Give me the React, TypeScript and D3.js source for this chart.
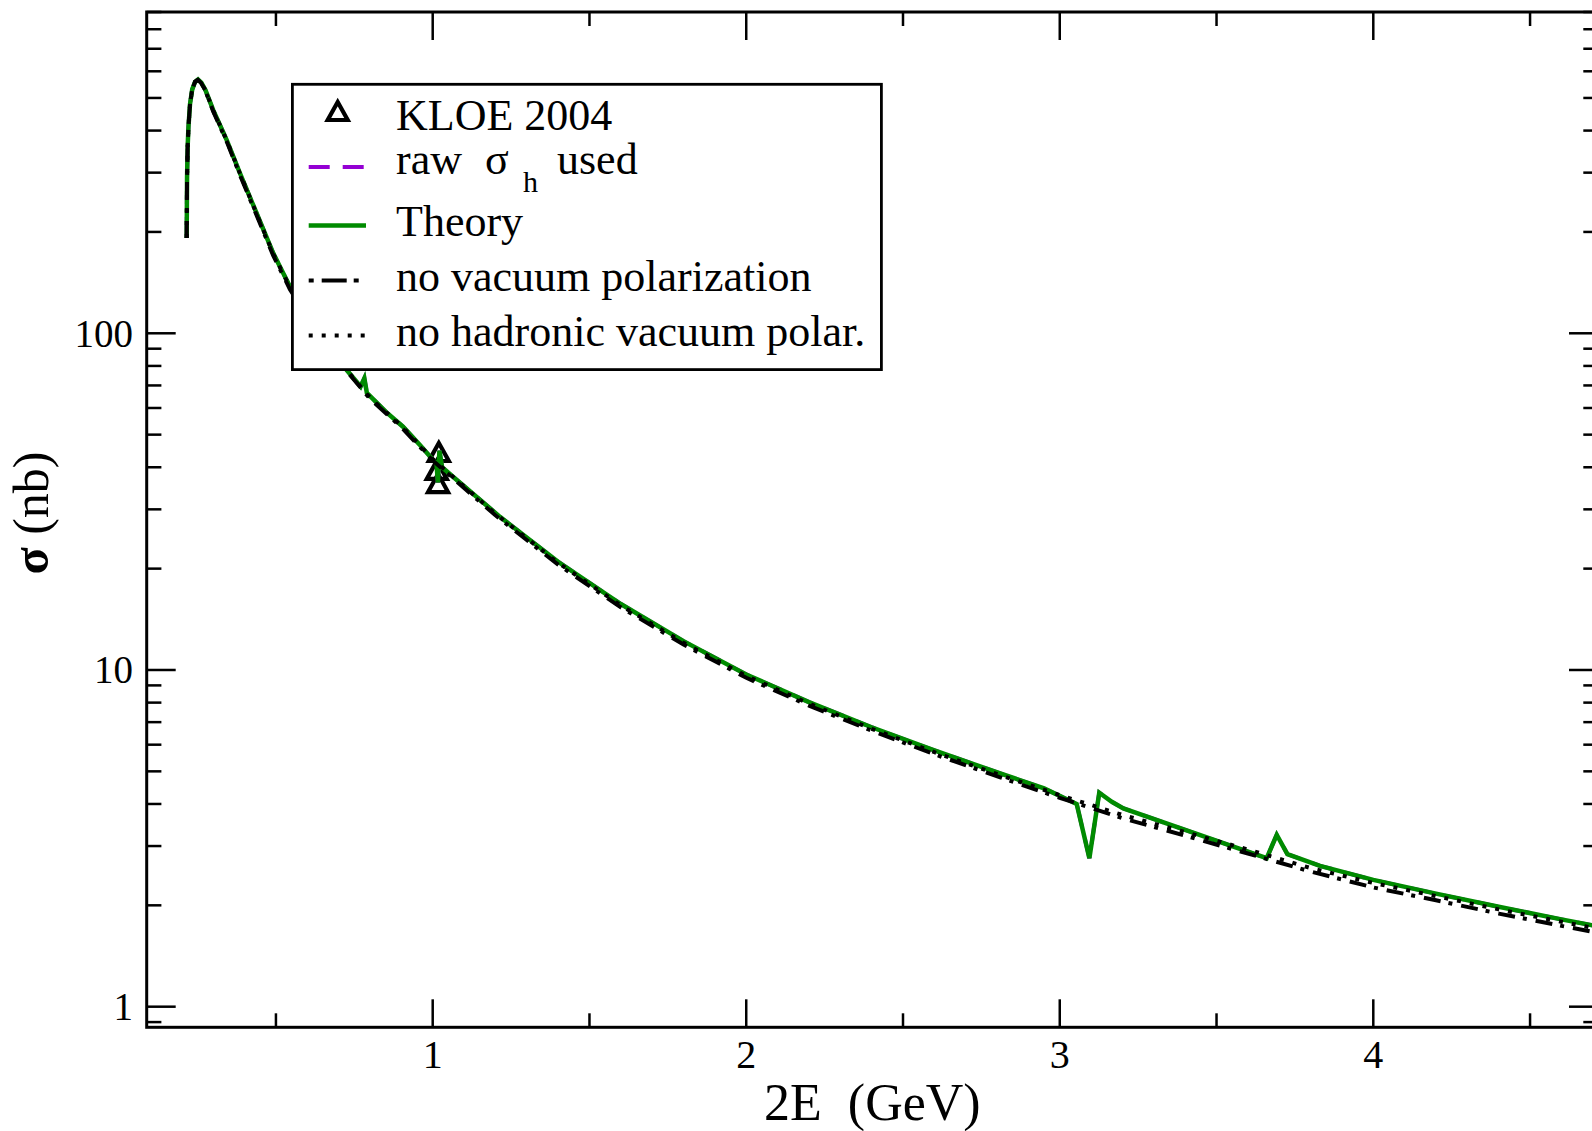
import React from "react";
import * as d3 from "d3";

// ---- data ----
const theoryE = [0.2153,0.2165,0.2185,0.2210,0.2260,0.2330,0.2420,0.2514,0.2620,0.2750,0.3000,0.3430,0.3853,0.4386,0.4915,0.5448,0.6000,0.6600,0.7257,0.7700,0.7820,0.7900,0.8500,0.9053,0.9600,1.0020,1.0120,1.0165,1.0215,1.0300,1.0648,1.2147,1.4000,1.6000,1.8000,2.0000,2.2000,2.4000,2.6000,2.8100,2.9500,3.0540,3.0945,3.1260,3.1660,3.2030,3.4000,3.6600,3.6920,3.7260,3.8300,4.0000,4.2000,4.4000,4.6000,4.7200];
const theorySigma = [192,290,360,410,480,530,558,567,555,528,460,375,298.7,227,172.8,137.5,113,93.5,77.8,69.5,73.5,66.5,58.5,52.8,46.5,42.0,41.2,36.0,44.8,40.0,37.5,28.5,20.96,15.7,12.18,9.7,8.03,6.76,5.77,4.93,4.45,4.0,2.76,4.32,4.06,3.88,3.35,2.76,3.24,2.84,2.62,2.38,2.166,1.98,1.817,1.73];

const rawE = theoryE;
const rawSigma = theorySigma;

const noVpE = [0.2153,0.2165,0.2185,0.2210,0.2260,0.2330,0.2420,0.2514,0.2620,0.2750,0.3000,0.3430,0.3853,0.4386,0.4915,0.5448,0.6000,0.6600,0.7257,0.8000,0.9000,1.0000,1.2000,1.4000,1.6000,1.8000,2.0000,2.2000,2.4000,2.6000,2.8100,3.0000,3.2000,3.4000,3.6000,3.8000,4.0000,4.2000,4.4000,4.6000,4.7200];
const noVpSigma = [192,290,360,410,480,530,558,566,553,525,456,371,295,224,170,135,112.4,93,77.2,63.9,52.6,41.9,28.8,20.55,15.35,11.9,9.48,7.84,6.6,5.62,4.8,4.17,3.63,3.22,2.85,2.52,2.26,2.07,1.89,1.738,1.655];

const noHadE = noVpE;
const noHadSigma = [192,290,360,410,480,530,558,567,554,527,459,374,298,226,172,137,113,93.4,77.7,64.4,53.1,42.3,29.1,20.8,15.55,12.05,9.6,7.95,6.69,5.7,4.87,4.25,3.71,3.3,2.93,2.58,2.33,2.13,1.945,1.787,1.70];

const kloeE = [1.0195, 1.0130, 1.0170];
const kloeSigma = [44.4, 39.3, 35.9];

const xMajor = [1, 2, 3, 4];
const xMinor = [0.5, 1.5, 2.5, 3.5, 4.5];
const yMajor = [1, 10, 100];
const yMinor = [0.9, 2, 3, 4, 5, 6, 7, 8, 9, 20, 30, 40, 50, 60, 70, 80, 90, 200, 300, 400, 500, 600, 700, 800, 900];

const legendLabels = ["KLOE 2004", "raw", "\u03C3", "h", "used", "Theory", "no vacuum polarization", "no hadronic vacuum polar."];

// ---- layout ----
const W = 1592, H = 1131;
const L = 146.7, R = 1598, T = 12, B = 1027.3;
const FONT = "'Liberation Serif', 'Times New Roman', Times, serif";
const GREEN = "rgb(0,139,0)";
const VIOLET = "rgb(148,0,211)";

const x = d3.scaleLinear().domain([0.0878, 4.7167]).range([L, R]);
const y = d3.scaleLog().domain([0.8685, 900]).range([B, T]);

function linePath(es: number[], ss: number[]) {
  const pts = es.map((e, i) => [e, ss[i]] as [number, number]);
  return d3.line<[number, number]>().x(d => x(d[0])).y(d => y(d[1]))(pts) || "";
}

function tri(cx: number, cy: number) {
  return `M${cx},${cy - 9} L${cx + 10},${cy + 9} L${cx - 10},${cy + 9} Z`;
}

export default function App() {
  const lx0 = 308.7, lx1 = 366;
  return (
    <div style={{ position: "absolute", left: 0, top: 0 }}>
      <svg width={W} height={H} style={{ display: "block", background: "#fff" }}>
        <defs>
          <clipPath id="plotclip">
            <rect x={L} y={T} width={R - L} height={B - T} />
          </clipPath>
        </defs>

        {/* data */}
        <g clipPath="url(#plotclip)">
          {kloeE.map((e, i) => (
            <path key={i} d={tri(x(e), y(kloeSigma[i]))} fill="none" stroke="#000" strokeWidth={4.2} strokeLinejoin="miter" />
          ))}
          <path d={linePath(rawE, rawSigma)} fill="none" stroke={VIOLET} strokeWidth={4} strokeDasharray="21 13" />
          <path d={linePath(theoryE, theorySigma)} fill="none" stroke={GREEN} strokeWidth={4.5} strokeLinejoin="miter" />
          <path d={linePath(noVpE, noVpSigma)} fill="none" stroke="#000" strokeWidth={4} strokeDasharray="17 8 4 9" />
          <path d={linePath(noHadE, noHadSigma)} fill="none" stroke="#000" strokeWidth={4} strokeDasharray="4 9" />
        </g>

        {/* frame */}
        <rect x={L} y={T} width={R - L} height={B - T} fill="none" stroke="#000" strokeWidth={3} />

        {/* y ticks */}
        {yMajor.map(v => (
          <g key={"ym" + v}>
            <line x1={L} x2={L + 29} y1={y(v)} y2={y(v)} stroke="#000" strokeWidth={2.5} />
            <line x1={R} x2={R - 29} y1={y(v)} y2={y(v)} stroke="#000" strokeWidth={2.5} />
            <text x={133} y={y(v) + 13.5} textAnchor="end" fontFamily={FONT} fontSize={39}>{v}</text>
          </g>
        ))}
        {yMinor.map(v => (
          <g key={"yn" + v}>
            <line x1={L} x2={L + 14.7} y1={y(v)} y2={y(v)} stroke="#000" strokeWidth={2.5} />
            <line x1={R} x2={R - 14.7} y1={y(v)} y2={y(v)} stroke="#000" strokeWidth={2.5} />
          </g>
        ))}

        {/* x ticks */}
        {xMajor.map(v => (
          <g key={"xm" + v}>
            <line x1={x(v)} x2={x(v)} y1={B} y2={B - 28} stroke="#000" strokeWidth={2.5} />
            <line x1={x(v)} x2={x(v)} y1={T} y2={T + 28} stroke="#000" strokeWidth={2.5} />
            <text x={x(v)} y={1068} textAnchor="middle" fontFamily={FONT} fontSize={40}>{v}</text>
          </g>
        ))}
        {xMinor.map(v => (
          <g key={"xn" + v}>
            <line x1={x(v)} x2={x(v)} y1={B} y2={B - 14} stroke="#000" strokeWidth={2.5} />
            <line x1={x(v)} x2={x(v)} y1={T} y2={T + 14} stroke="#000" strokeWidth={2.5} />
          </g>
        ))}

        {/* axis titles */}
        <text x={(L + R) / 2} y={1120} textAnchor="middle" fontFamily={FONT} fontSize={52} style={{ whiteSpace: "pre" }}>{"2E  (GeV)"}</text>
        <text transform="translate(48,513) rotate(-90)" textAnchor="middle" fontFamily={FONT} fontSize={50}>
          <tspan fontWeight="bold">{"\u03C3"}</tspan>
          <tspan>{" (nb)"}</tspan>
        </text>

        {/* legend */}
        <rect x={292.4} y={84.3} width={589} height={285.3} fill="#fff" stroke="#000" strokeWidth={2.8} />
        <path d={tri(337.7, 111)} fill="none" stroke="#000" strokeWidth={4.2} />
        <line x1={lx0} x2={lx1} y1={167} y2={167} stroke={VIOLET} strokeWidth={4} strokeDasharray="21 13" />
        <line x1={lx0} x2={lx1} y1={225.5} y2={225.5} stroke={GREEN} strokeWidth={4.5} />
        <line x1={lx0} x2={lx1} y1={280.5} y2={280.5} stroke="#000" strokeWidth={4} strokeDasharray="5 8 25 7" />
        <line x1={lx0} x2={lx1} y1={335.5} y2={335.5} stroke="#000" strokeWidth={4} strokeDasharray="4 9" />
        <g fontFamily={FONT} fontSize={44}>
          <text x={396} y={129.5}>{legendLabels[0]}</text>
          <text x={396} y={174}>{legendLabels[1]}</text>
          <text x={485} y={174}>{legendLabels[2]}</text>
          <text x={523} y={192} fontSize={30}>{legendLabels[3]}</text>
          <text x={557} y={174}>{legendLabels[4]}</text>
          <text x={396} y={236}>{legendLabels[5]}</text>
          <text x={396} y={290.5}>{legendLabels[6]}</text>
          <text x={396} y={346}>{legendLabels[7]}</text>
        </g>
      </svg>
    </div>
  );
}
